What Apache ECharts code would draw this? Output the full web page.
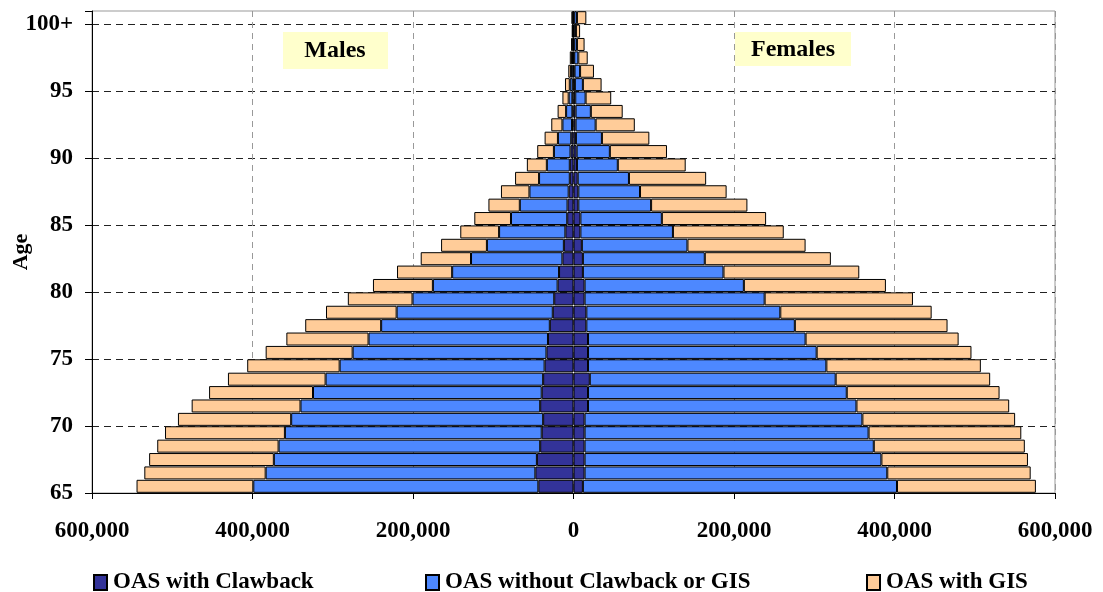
<!DOCTYPE html>
<html>
<head>
<meta charset="utf-8">
<script src="https://cdn.jsdelivr.net/npm/echarts@6/dist/echarts.min.js"></script>
<style>
html, body { margin: 0; padding: 0; background: #fff; }
#chart { width: 1103px; height: 592px; }
</style>
</head>
<body>
<div id="chart"></div>
<script>
// age groups, bottom to top
var ages = ['65', '66', '67', '68', '69', '70', '71', '72', '73', '74', '75', '76', '77', '78', '79',
  '80', '81', '82', '83', '84', '85', '86', '87', '88', '89', '90', '91', '92', '93', '94', '95',
  '96', '97', '98', '99', '100+']

// males (drawn to the left)
var maleClawback = [43800, 47500, 45600, 41500, 39600, 37800, 41500, 39600, 37800, 36000, 33700, 31800,
  29500, 25800, 24000, 19800, 18000, 13800, 12000, 10100, 7800, 7400, 6000, 4600, 4600, 3700, 2800,
  1800, 1400, 1400, 1000, 900, 700, 500, 400, 400]
var maleNoClawback = [355200, 336100, 327800, 326000, 320000, 314000, 298700, 285000, 271100, 255400,
  241500, 223600, 210200, 194600, 176600, 155400, 133200, 113900, 95900, 82600, 70100, 59500, 48900,
  38300, 28600, 20700, 16600, 12000, 7800, 4600, 3600, 2300, 1100, 700, 500, 600]
var maleGIS = [145500, 151200, 155400, 151200, 149400, 141100, 135600, 129500, 121700, 115200, 108400,
  102400, 94600, 88000, 80600, 74700, 68700, 62700, 57100, 48400, 45700, 39100, 35500, 29900, 24900,
  20800, 16600, 13900, 10600, 7800, 6000, 3300, 2800, 1800, 1100, 1500]

// females (drawn to the right)
var femaleClawback = [11700, 13800, 13800, 13800, 13800, 13800, 18100, 18100, 20300, 18100, 18100, 18100,
  16000, 16000, 13800, 13800, 11700, 11700, 10400, 8600, 8600, 6000, 6000, 5200, 4300, 3900, 3000,
  2600, 2600, 2200, 1700, 1300, 900, 900, 900, 900]
var femaleNoClawback = [391400, 377200, 369900, 360400, 353900, 346200, 334500, 322400, 306400, 297000,
  284900, 271100, 259800, 241700, 224400, 198500, 175200, 151900, 131600, 115300, 101500, 90700,
  76900, 63900, 50900, 41400, 32400, 25000, 19000, 12900, 10000, 6900, 5100, 3400, 2100, 3400]
var femaleGIS = [173100, 178700, 182600, 188200, 190300, 190300, 190300, 190400, 192500, 192500, 192900,
  190700, 190300, 188600, 184800, 177000, 169200, 157100, 147200, 138100, 129900, 120000, 107900,
  96200, 84600, 71200, 59100, 48800, 39700, 31900, 23300, 17300, 11700, 9500, 5200, 11700]

var seriesNames = ['OAS with Clawback', 'OAS without Clawback or GIS', 'OAS with GIS']
var colors = ['#333399', '#4d88ff', '#ffcc99']

var serif = '"Liberation Serif", "Times New Roman", serif'

function neg(arr) {
  return arr.map(function (v) { return -v })
}

function barSeries(name, color, data) {
  return {
    name: name,
    type: 'bar',
    stack: 'all',
    yAxisIndex: 0,
    data: data,
    barCategoryGap: '3%',
    itemStyle: { color: color, borderColor: '#000', borderWidth: 1 },
    emphasis: { disabled: true }
  }
}

// one legend per entry so each sits where the reference puts it
function legendAt(name, left) {
  return {
    data: [name],
    left: left,
    top: 566,
    itemWidth: 13,
    itemHeight: 15,
    icon: 'rect',
    textStyle: { fontFamily: serif, fontWeight: 'bold', fontSize: 23, color: '#000', padding: [0, 0, 0, 1] }
  }
}

var chart = echarts.init(document.getElementById('chart'))

var option = {
  animation: false,
  backgroundColor: '#fff',
  grid: {
    left: 92, right: 48, top: 11, bottom: 99,
    outerBoundsMode: 'none',
    containLabel: false,
    show: true, borderColor: '#999', borderWidth: 1, backgroundColor: 'transparent'
  },
  legend: [
    legendAt(seriesNames[0], 88),
    legendAt(seriesNames[1], 420),
    legendAt(seriesNames[2], 861)
  ],
  xAxis: {
    type: 'value',
    min: -600000,
    max: 600000,
    interval: 200000,
    axisLine: { show: true, lineStyle: { color: '#000', width: 1 } },
    axisTick: { show: true, length: 6, lineStyle: { color: '#000' } },
    axisLabel: {
      margin: 27,
      fontFamily: serif, fontWeight: 'bold', fontSize: 23, color: '#000',
      formatter: function (v) { return Math.abs(v).toLocaleString('en-US') }
    },
    splitLine: { show: true, lineStyle: { color: '#999', type: [6, 5], width: 1 } }
  },
  yAxis: [
    {
      type: 'category',
      data: ages,
      position: 'right',
      axisLine: { show: false },
      axisTick: { show: false },
      axisLabel: { show: false },
      splitLine: { show: false }
    },
    {
      type: 'value',
      min: 0,
      max: 36,
      interval: 5,
      position: 'left',
      name: 'Age',
      nameLocation: 'middle',
      nameGap: 60,
      nameMoveOverlap: false,
      nameRotate: 90,
      nameTextStyle: { fontFamily: serif, fontWeight: 'bold', fontSize: 22, color: '#000' },
      axisLine: { show: true, lineStyle: { color: '#000', width: 1 } },
      axisTick: { show: true, length: 7, lineStyle: { color: '#000' } },
      axisLabel: {
        margin: 19,
        fontFamily: serif, fontWeight: 'bold', fontSize: 23, color: '#000',
        formatter: function (v) {
          if (v > 35) return ''
          return ages[v]
        }
      },
      splitLine: {
        show: true, showMinLine: false, showMaxLine: false,
        lineStyle: { color: '#222', type: [7, 5], width: 1 }
      }
    }
  ],
  series: [
    barSeries(seriesNames[0], colors[0], neg(maleClawback)),
    barSeries(seriesNames[1], colors[1], neg(maleNoClawback)),
    barSeries(seriesNames[2], colors[2], neg(maleGIS)),
    barSeries(seriesNames[0], colors[0], femaleClawback),
    barSeries(seriesNames[1], colors[1], femaleNoClawback),
    barSeries(seriesNames[2], colors[2], femaleGIS)
  ],
  graphic: [
    { type: 'rect', shape: { x: 283, y: 32, width: 105, height: 37 }, style: { fill: '#ffffcc' }, z: 10 },
    {
      type: 'text', x: 335, y: 51, z: 11,
      style: { text: 'Males', align: 'center', verticalAlign: 'middle', font: 'bold 24px ' + serif, fill: '#000' }
    },
    { type: 'rect', shape: { x: 735, y: 32, width: 116, height: 34 }, style: { fill: '#ffffcc' }, z: 10 },
    {
      type: 'text', x: 793, y: 50, z: 11,
      style: { text: 'Females', align: 'center', verticalAlign: 'middle', font: 'bold 24px ' + serif, fill: '#000' }
    }
  ]
}

chart.setOption(option)
</script>
</body>
</html>
